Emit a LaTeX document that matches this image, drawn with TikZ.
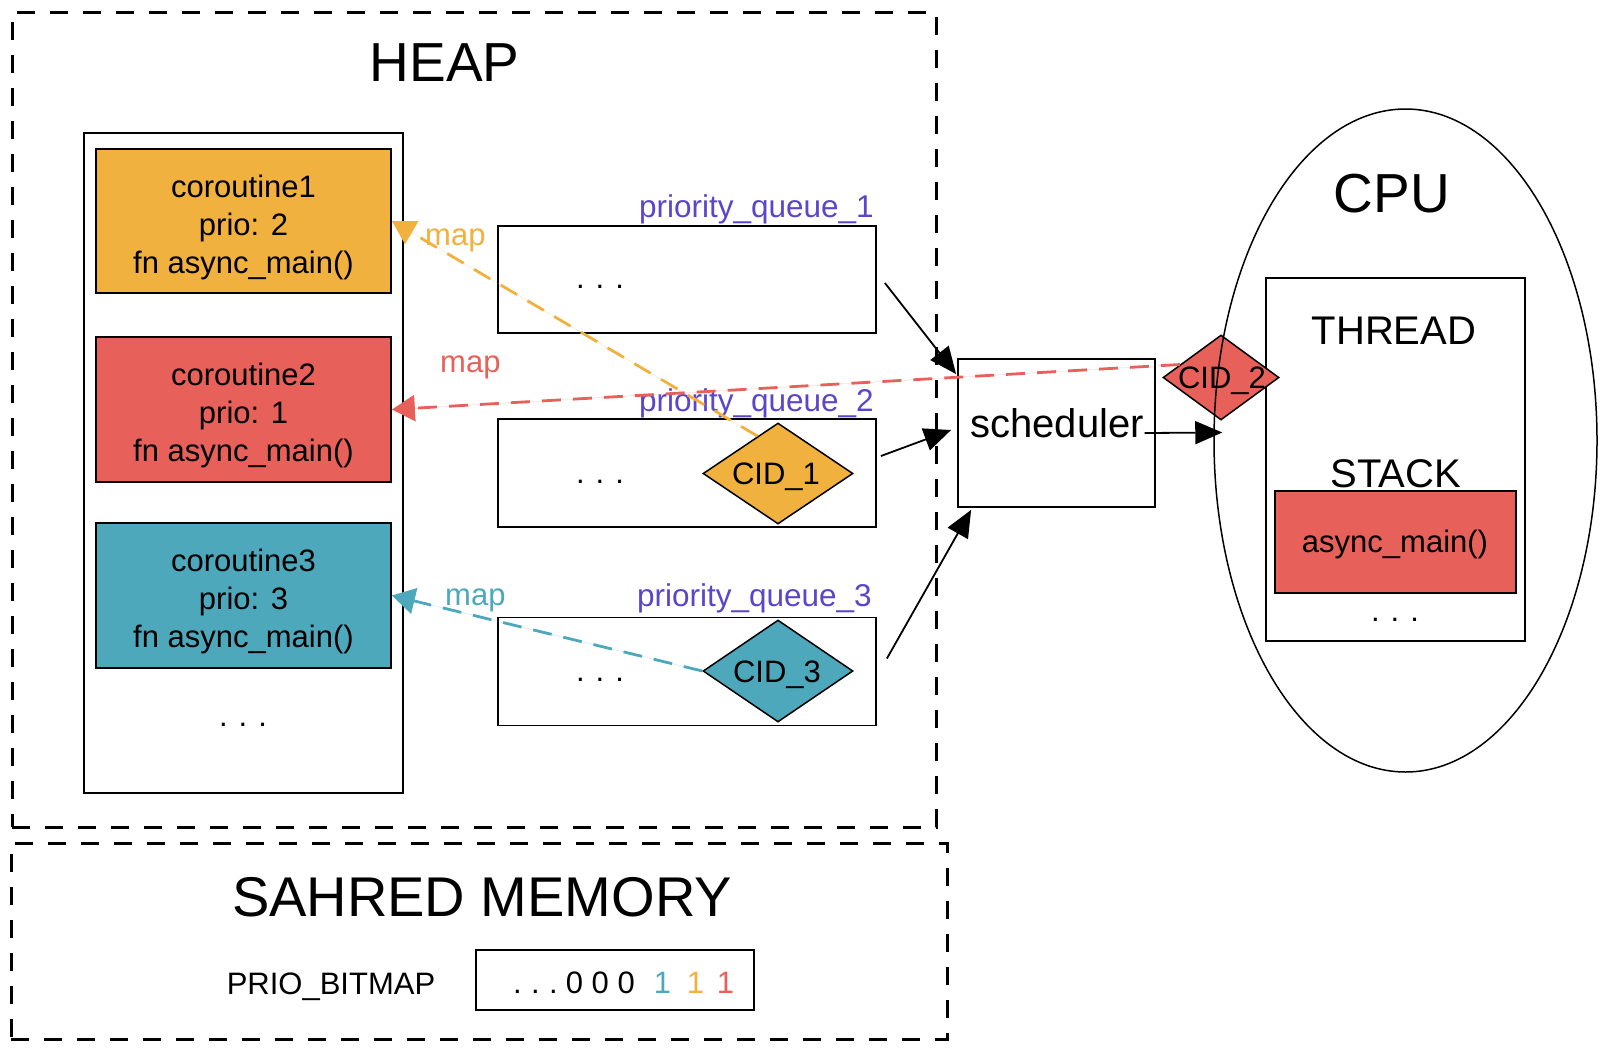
\documentclass[tikz,border=0pt]{standalone}
\usepackage{fontspec}
\setmainfont{Liberation Sans}
\usetikzlibrary{arrows.meta,shapes.geometric,calc}
\definecolor{corange}{HTML}{F0B13E}
\definecolor{cred}{HTML}{E8605A}
\definecolor{cteal}{HTML}{4DA8BC}
\definecolor{cpurple}{HTML}{5B45C9}
\newcommand\mydots{.\hspace{11pt}.\hspace{11pt}.}
\begin{document}
\begin{tikzpicture}[x=1pt,y=-1pt,
  fs/.style={font=\fontsize{31}{38}\selectfont, inner sep=0pt},
  bigtxt/.style={font=\fontsize{55}{60}\selectfont, inner sep=0pt},
  midtxt/.style={font=\fontsize{40}{46}\selectfont, inner sep=0pt},
  region/.style={draw, line width=3pt, dash pattern=on 18pt off 15pt, inner sep=0pt},
  box/.style={draw, line width=1.8pt, inner sep=0pt},
  cobox/.style={box, minimum width=295pt, minimum height=145pt},
  qbox/.style={box, minimum width=378pt, minimum height=108pt},
  cid/.style={diamond, draw, line width=1.5pt, inner sep=0pt},
  qlabel/.style={fs, font=\fontsize{31.5}{38}\selectfont, text=cpurple, anchor=base east},
  maplabel/.style={fs, anchor=base west},
  blackarrow/.style={line width=1.8pt, -{Triangle[length=27pt,width=23pt]}},
  maparrow/.style={line width=2.8pt, dash pattern=on 19pt off 12pt, -{Triangle[length=23pt,width=26pt]}},
]
\useasboundingbox (0,0) rectangle (1602,1050);

% regions
\node[region, minimum width=924pt, minimum height=815pt] (heap) at (474,419.5) {};
\node[region, minimum width=936pt, minimum height=196pt] (shared) at (479,941) {};
\node[bigtxt] (heapt) at (444.5,63) {HEAP};
\node[bigtxt, font=\fontsize{56}{60}\selectfont] (sharedt) at (482,897) {SAHRED MEMORY};

% coroutines
\node[box, minimum width=319pt, minimum height=660pt] (colist) at (243.5,463) {};
\node[cobox, fill=corange, minimum height=144pt] (c1) at (243.5,221) {};
\node[cobox, fill=cred] (c2) at (243.5,409.5) {};
\node[cobox, fill=cteal] (c3) at (243.5,595.5) {};
\node[fs, align=center, yshift=-6pt] (c1t) at (c1) {coroutine1\\prio: 2\\fn async\_main()};
\node[fs, align=center, yshift=-6pt] (c2t) at (c2) {coroutine2\\prio: 1\\fn async\_main()};
\node[fs, align=center, yshift=-6pt] (c3t) at (c3) {coroutine3\\prio: 3\\fn async\_main()};
\node[fs, anchor=base] (cdots) at (243,726) {\mydots};

% queues
\node[qbox, minimum height=107pt] (q1) at (687,279.5) {};
\node[qbox] (q2) at (687,473) {};
\node[qbox] (q3) at (687,671.5) {};
\node[qlabel] (q1l) at (874,217) {priority\_queue\_1};
\node[qlabel] (q2l) at (874,411) {priority\_queue\_2};
\node[qlabel] (q3l) at (872,606) {priority\_queue\_3};
\node[fs, anchor=base] (q1d) at (600,288) {\mydots};
\node[fs, anchor=base] (q2d) at (600,483) {\mydots};
\node[fs, anchor=base] (q3d) at (600,681) {\mydots};
\node[cid, fill=corange, minimum width=150pt, minimum height=101pt] (cid1) at (778,473.5) {};
\node[cid, fill=cteal, minimum width=150pt, minimum height=102pt] (cid3) at (778,671) {};
\node[fs, anchor=base] (cid1t) at (776,484) {CID\_1};
\node[fs, anchor=base] (cid3t) at (777,682) {CID\_3};

% scheduler
\node[box, minimum width=197pt, minimum height=148pt] (sched) at (1056.5,433) {};
\node[midtxt, anchor=base] (schedt) at (1057,437) {scheduler};

% CPU
\node[draw, line width=1.5pt, inner sep=0pt, minimum width=259pt, minimum height=363pt] (thread) at (1395.5,459.5) {};
\node[box, fill=cred, minimum width=241pt, minimum height=102pt] (stackbox) at (1395.5,542) {};
\node[midtxt] (threadt) at (1394,331) {THREAD};
\node[midtxt] (stackt) at (1396,473.5) {STACK};
\node[fs, anchor=base] (asyncm) at (1395,552) {async\_main()};
\node[fs, anchor=base] (tdots) at (1395,621) {\mydots};
\node[cid, fill=cred, minimum width=116pt, minimum height=85pt] (cid2) at (1221,377.5) {};
\node[fs, anchor=base] (cid2t) at (1222,388) {CID\_2};
\node[draw, ellipse, line width=1.5pt, inner sep=0pt, minimum width=383pt, minimum height=663pt] (cpu) at (1405.5,440.5) {};
\node[bigtxt] (cput) at (1392,194) {CPU};

% bitmap
\node[fs, anchor=base] (pbl) at (331,994) {PRIO\_BITMAP};
\node[box, minimum width=278pt, minimum height=60pt] (bitmap) at (615,980) {};
\node[fs, anchor=base west] (bits) at (513,993) {.\hspace{9.4pt}.\hspace{9.4pt}.\hspace{8pt}0 0 0\hspace{19pt}\textcolor{cteal}{1}\hspace{15.8pt}\textcolor{corange}{1}\hspace{12.8pt}\textcolor{cred}{1}};

% connectors
\coordinate (cpuin) at ($(cpu.west)+(9,-8)$);
\draw[blackarrow] ($(q1.east)+(8,3.5)$) -- ($(sched.north west)+(-1,16)$);
\draw[blackarrow] ($(q2.east)+(4,-17)$) -- ($(sched.west)+(-6,-3)$);
\draw[blackarrow] ($(q3.east)+(10,-13)$) -- ($(sched.south west)+(14,2)$);
\draw[blackarrow] ($(sched.center)+(88,0)$) -- (cpuin);

\draw[maparrow, draw=corange, fill=corange] ($(cid1.north)!0.27!(cid1.west)$) -- (c1.east);
\draw[maparrow, draw=cred, fill=cred] ($(cid2.west)!0.3!(cid2.north)$) -- (c2.east);
\draw[maparrow, draw=cteal, fill=cteal] (cid3.west) -- (c3.east);
\node[maplabel, text=corange] (m1) at (425,245) {map};
\node[maplabel, text=cred] (m2) at (440,372) {map};
\node[maplabel, text=cteal] (m3) at (445,605) {map};
\end{tikzpicture}
\end{document}
